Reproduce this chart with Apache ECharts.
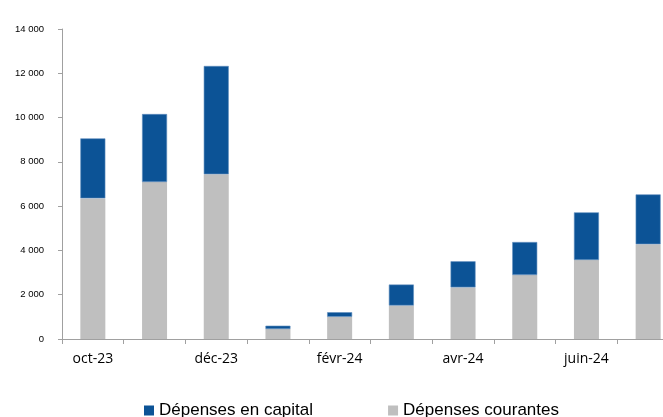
<!DOCTYPE html>
<html>
<head>
<meta charset="utf-8">
<script src="https://cdn.jsdelivr.net/npm/echarts@6/dist/echarts.min.js"></script>
<style>html,body{margin:0;padding:0;background:#fff;overflow:hidden;}#c{width:690px;height:417px;}</style>
</head>
<body>
<div id="c"></div>
<script>
const categories = ['oct-23','nov-23','déc-23','janv-24','févr-24','mars-24','avr-24','mai-24','juin-24','juil-24'];
const depensesCourantes = [6350, 7090, 7440, 450, 1000, 1510, 2330, 2890, 3570, 4280];
const depensesCapital = [2710, 3070, 4890, 150, 210, 950, 1180, 1490, 2150, 2250];
const seriesNames = ['Dépenses en capital', 'Dépenses courantes'];

function fmt(v){ return String(v).replace(/\B(?=(\d{3})+(?!\d))/g, ' '); }

const chart = echarts.init(document.getElementById('c'));
chart.setOption({
  animation: false,
  backgroundColor: '#fff',
  grid: { left: 62, top: 29, bottom: 78, right: 11, containLabel: false },
  legend: {
    data: [seriesNames[0], seriesNames[1]],
    left: 139, top: 397,
    icon: 'rect', itemWidth: 10, itemHeight: 10, itemGap: 75,
    itemStyle: { borderWidth: 0 },
    textStyle: { fontFamily: 'Liberation Sans', fontSize: 17, color: '#000' }
  },
  xAxis: {
    type: 'category', data: categories,
    axisLine: { lineStyle: { color: '#a0a0a0', width: 1 } },
    axisTick: { show: true, interval: 0, length: 5, lineStyle: { color: '#a0a0a0' } },
    axisLabel: { interval: 1, margin: 13, fontFamily: 'Open Sans', fontSize: 14, color: '#000' }
  },
  yAxis: {
    type: 'value', min: 0, max: 14000, interval: 2000,
    splitLine: { show: false },
    axisLine: { show: true, lineStyle: { color: '#a0a0a0', width: 1 } },
    axisTick: { show: true, length: 4, lineStyle: { color: '#a0a0a0' } },
    axisLabel: { margin: 18, fontFamily: 'Liberation Sans', fontSize: 9.5, color: '#000', formatter: fmt }
  },
  series: [
    { name: seriesNames[1], type: 'bar', stack: 's', barWidth: 25, data: depensesCourantes,
      itemStyle: { color: '#bfbfbf' } },
    { name: seriesNames[0], type: 'bar', stack: 's', barWidth: 25, data: depensesCapital,
      itemStyle: { color: '#0c5396', borderColor: '#5f8dbd', borderWidth: 0.6 } }
  ]
});
</script>
</body>
</html>
